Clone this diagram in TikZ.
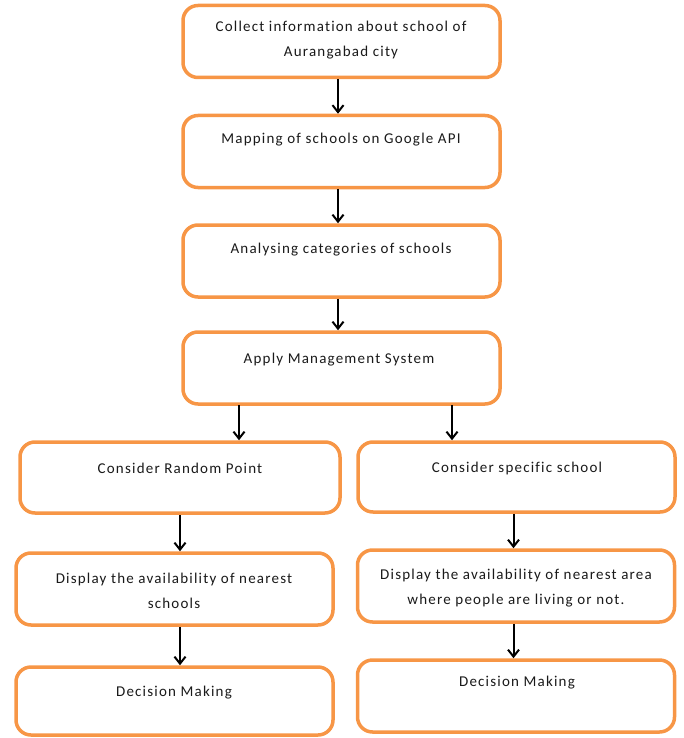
\documentclass[tikz,border=0pt]{standalone}
\usepackage{fontspec}
\setmainfont[LetterSpace=8,Ligatures=NoCommon]{Carlito}
\usetikzlibrary{arrows.meta}
\definecolor{boxorange}{HTML}{F79646}
\definecolor{txtgray}{HTML}{1A1A1A}
\begin{document}
\begin{tikzpicture}[x=1pt,y=-1pt,
  box/.style={draw=boxorange,line width=3.5pt,rounded corners=15pt,fill=white,
    minimum width=317pt,minimum height=72pt,inner sep=0pt},
  lbl/.style={font=\fontsize{15}{25}\selectfont,text=txtgray,align=center,inner sep=0pt},
  arr/.style={draw=black,line width=2pt,-{Straight Barb[length=7pt,width=11pt,line width=2pt]}}]
\useasboundingbox (0,0) rectangle (684,738);
% boxes
\node[box] (b1) at (341.5,41.5) {};
\node[box] (b2) at (341.5,151.5) {};
\node[box] (b3) at (341.5,261) {};
\node[box] (b4) at (341.5,368) {};
\node[box,minimum width=320pt,minimum height=71pt] (l1) at (180,477.5) {};
\node[box] (l2) at (174.5,589) {};
\node[box,minimum height=68pt] (l3) at (174.5,701) {};
\node[box,minimum height=70pt] (r1) at (516.5,477) {};
\node[box] (r2) at (516,586) {};
\node[box] (r3) at (516,696) {};
% labels
\node[lbl] (t1) at (341,40) {Collect information about school of\\Aurangabad city};
\node[lbl] (t2) at (341,140) {Mapping of schools on Google API};
\node[lbl] (t3) at (341,250) {Analysing categories of schools};
\node[lbl] (t4) at (339,360) {Apply Management System};
\node[lbl] (t5) at (180,468) {Consider Random Point};
\node[lbl] (t6) at (174,590.5) {Display the availability of nearest\\schools};
\node[lbl] (t7) at (174,693) {Decision Making};
\node[lbl] (t8) at (517,468) {Consider specific school};
\node[lbl] (t9) at (516,588) {Display the availability of nearest area\\where people are living or not.};
\node[lbl] (t10) at (517,683) {Decision Making};
% connector anchors
\coordinate (a4l) at (239,405);
\coordinate (a4r) at (452,405);
% arrows
\draw[arr] ([xshift=-3.5pt]b1.south) -- ([xshift=-3.5pt]b2.north);
\draw[arr] ([xshift=-3.5pt]b2.south) -- ([xshift=-3.5pt]b3.north);
\draw[arr] ([xshift=-3.5pt]b3.south) -- ([xshift=-3.5pt]b4.north);
\draw[arr] (a4l) -- (a4l |- l1.north);
\draw[arr] (a4r) -- (a4r |- r1.north);
\draw[arr] (l1.south) -- (l1.south |- l2.north);
\draw[arr] (l1.south |- l2.south) -- (l1.south |- l3.north);
\draw[arr] ([xshift=-3pt]r1.south) -- ([xshift=-3pt]r1.south |- r2.north);
\draw[arr] ([xshift=-3pt]r1.south |- r2.south) -- ([xshift=-3pt]r1.south |- r3.north);
\end{tikzpicture}
\end{document}
